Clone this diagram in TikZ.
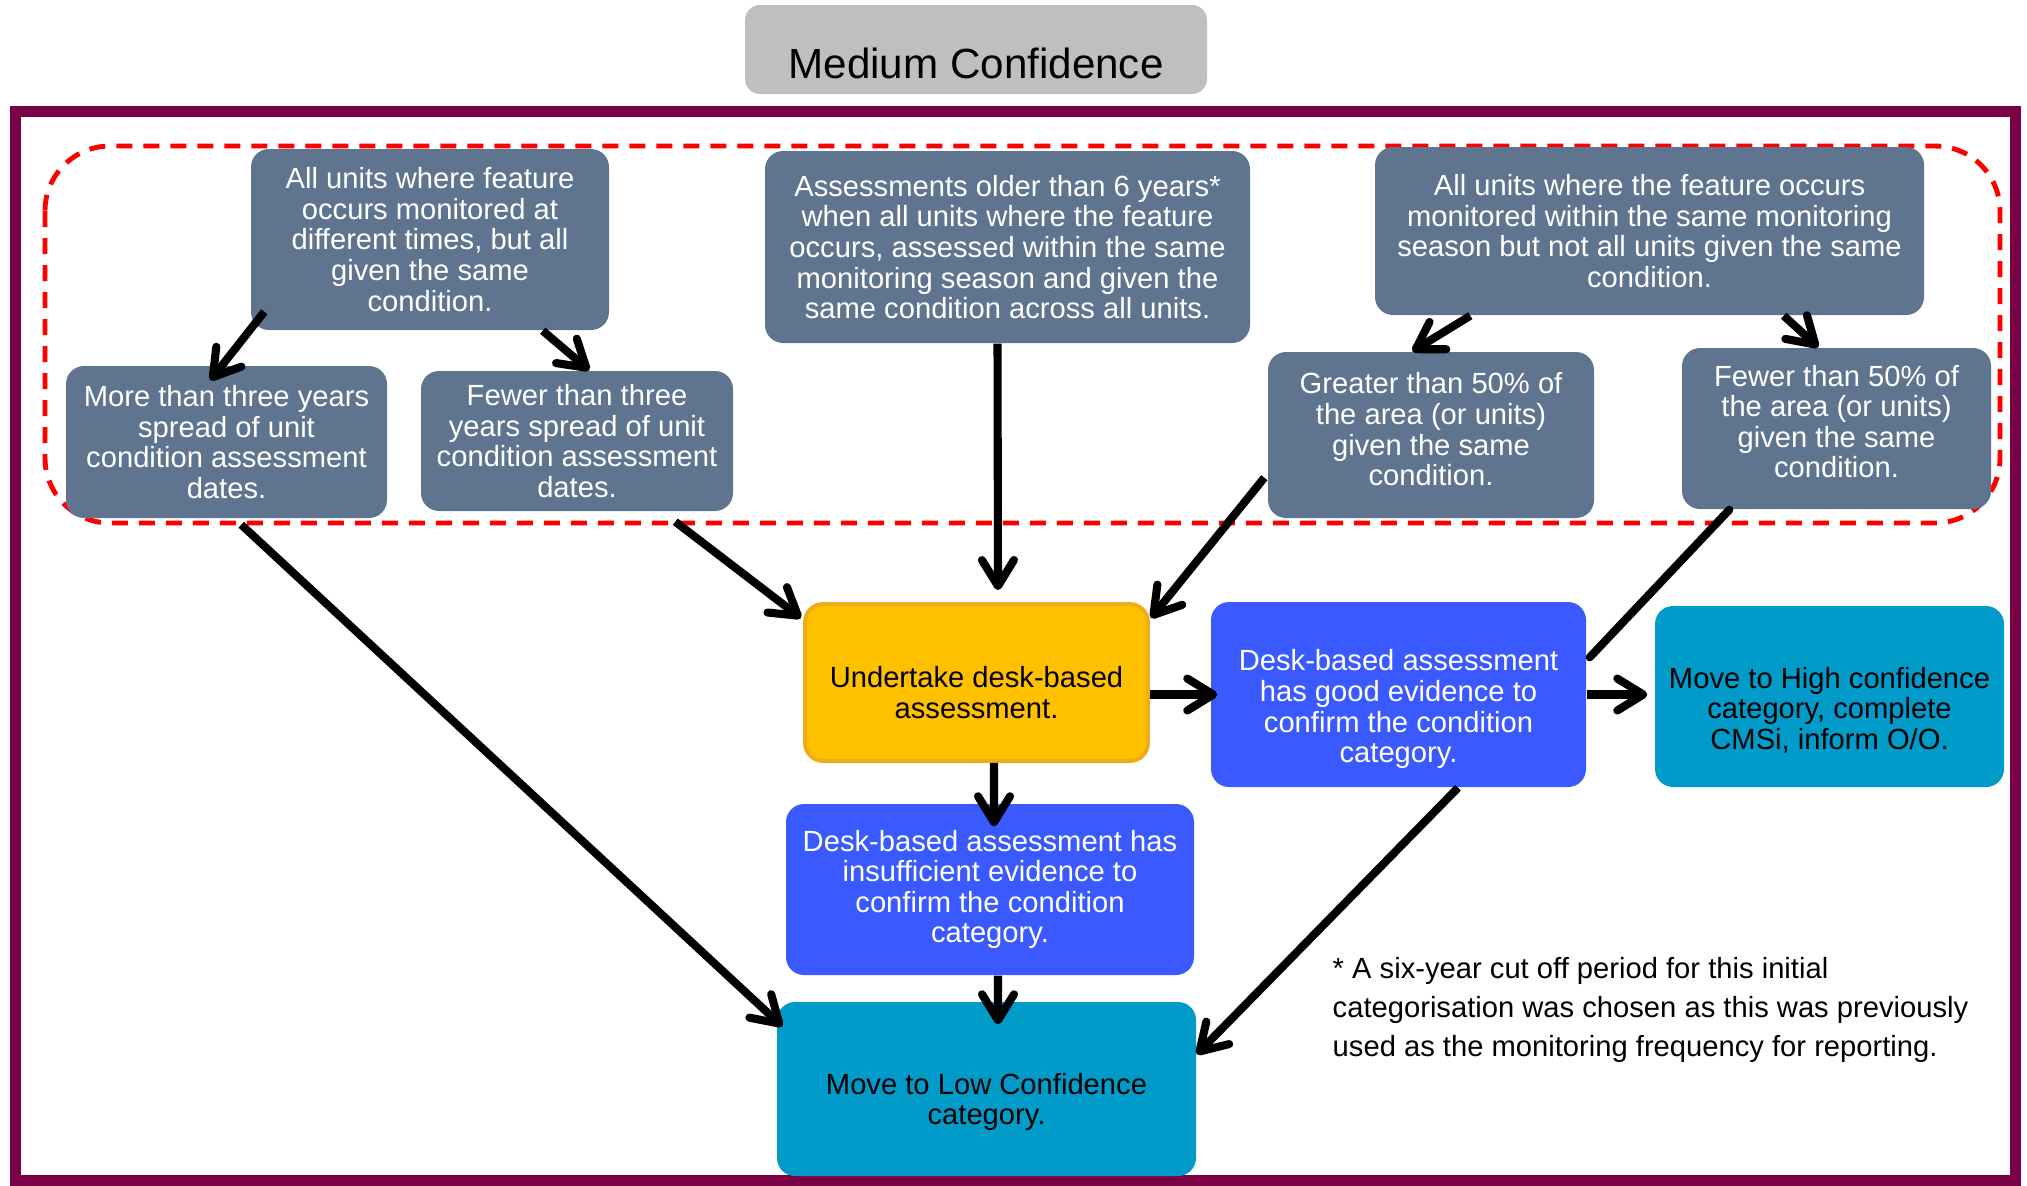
\documentclass[tikz,border=0pt]{standalone}
\usepackage{fontspec}
\setmainfont{Liberation Sans}
\usepackage{xcolor}
\usepackage{tikz}
\usetikzlibrary{arrows.meta}
\definecolor{slatefill}{RGB}{95,117,143}
\definecolor{deskfill}{RGB}{255,192,0}
\definecolor{deskline}{RGB}{240,172,24}
\definecolor{evidfill}{RGB}{58,90,255}
\definecolor{movefill}{RGB}{0,155,200}
\definecolor{hdrfill}{RGB}{191,191,191}
\definecolor{framecol}{RGB}{122,0,69}
\definecolor{dashred}{RGB}{255,0,0}
\newcommand{\padtop}[1]{\rule{0pt}{#1}}
\newcommand{\padbot}[1]{\rule[-#1]{0pt}{0pt}}

\begin{document}
\begin{tikzpicture}[
  box/.style={rounded corners=0.18cm, align=center, inner sep=1pt, font=\fontsize{8.3}{8.7}\selectfont},
  cond/.style={box, fill=slatefill, text=white},
  deskbox/.style={box, fill=deskfill, draw=deskline, line width=1.1pt, text=black},
  evid/.style={box, fill=evidfill, text=white},
  movebox/.style={box, fill=movefill, text=black},
  arr/.style={-{Straight Barb[length=2.6mm,width=3.2mm,round]}, line width=2.3pt},
  ln/.style={line width=2.3pt, line cap=round}
]
\useasboundingbox (0,0) rectangle (20.27,-11.85);

\node[fill=hdrfill, rounded corners=0.15cm, minimum width=4.62cm, minimum height=0.89cm,
  text height=0.57cm, text depth=0cm, inner sep=0pt, font=\fontsize{12}{14}\selectfont]
  (hdr) at (9.76,-0.495) {Medium Confidence};
\draw[framecol, line width=0.11cm] (0.155,-1.11) rectangle (20.15,-11.80);
\draw[dashred, line width=1.4pt, dash pattern=on 0.16cm off 0.11cm, rounded corners=0.65cm]
  (0.45,-1.46) rectangle (20.00,-5.23);

\node[cond, minimum width=3.58cm, minimum height=1.81cm] (allmon) at (4.30,-2.395)
  {All units where feature\\occurs monitored at\\different times, but all\\given the same\\condition.};
\node[cond, minimum width=3.21cm, minimum height=1.52cm] (morethree) at (2.265,-4.42)
  {More than three years\\spread of unit\\condition assessment\\dates.};
\node[cond, minimum width=3.12cm, minimum height=1.40cm] (fewerthree) at (5.77,-4.41)
  {Fewer than three\\years spread of unit\\condition assessment\\dates.};
\node[cond, minimum width=4.85cm, minimum height=1.92cm] (older) at (10.075,-2.47)
  {Assessments older than 6 years*\\when all units where the feature\\occurs, assessed within the same\\monitoring season and given the\\same condition across all units.};
\node[cond, minimum width=5.49cm, minimum height=1.68cm] (season) at (16.495,-2.31)
  {All units where the feature occurs\\monitored within the same monitoring\\season but not all units given the same\\condition.};
\node[cond, minimum width=3.26cm, minimum height=1.66cm] (greater) at (14.31,-4.35)
  {Greater than 50\% of\\the area (or units)\\given the same\\condition.\padbot{3.3pt}};
\node[cond, minimum width=3.09cm, minimum height=1.61cm] (fewerfifty) at (18.365,-4.285)
  {Fewer than 50\% of\\the area (or units)\\given the same\\condition.\padbot{4pt}};

\node[deskbox, minimum width=3.43cm, minimum height=1.57cm] (desk) at (9.765,-6.825)
  {\padtop{11.7pt}Undertake desk-based\\assessment.};
\node[evid, minimum width=3.75cm, minimum height=1.85cm] (good) at (13.985,-6.945)
  {\padtop{14.4pt}Desk-based assessment\\has good evidence to\\confirm the condition\\category.};
\node[movebox, minimum width=3.49cm, minimum height=1.81cm] (high) at (18.295,-6.965)
  {\padtop{13.8pt}Move to High confidence\\category, complete\\CMSi, inform O/O.};
\node[evid, minimum width=4.08cm, minimum height=1.71cm] (insuff) at (9.90,-8.895)
  {Desk-based assessment has\\insufficient evidence to\\confirm the condition\\category.};
\node[movebox, minimum width=4.19cm, minimum height=1.74cm] (low) at (9.865,-10.89)
  {\padtop{13.4pt}Move to Low Confidence\\category.};

\node[anchor=west, align=left, inner sep=0pt, font=\fontsize{8.3}{11}\selectfont] (note) at (13.32,-10.10)
  {* A six-year cut off period for this initial\\categorisation was chosen as this was previously\\used as the monitoring frequency for reporting.};

\draw[arr] ([shift={(0.14,0.19)}]allmon.south west) -- ([shift={(1.45,-0.15)}]morethree.north west);
\draw[arr] ([xshift=-0.67cm]allmon.south east) -- ([xshift=1.69cm]fewerthree.north west);
\draw[arr] ([xshift=0.96cm]season.south west) -- ([xshift=1.45cm]greater.north west);
\draw[arr] ([xshift=-1.41cm]season.south east) -- ([xshift=1.37cm]fewerfifty.north west);
\draw[arr] ([xshift=-0.1cm]older.south) -- ([shift={(0.215,0.12)}]desk.north);
\draw[arr] ([shift={(2.55,-0.10)}]fewerthree.south west) -- ([shift={(-0.02,-0.16)}]desk.north west);
\draw[arr] ([shift={(-0.03,0.41)}]greater.south west) -- ([shift={(0.01,-0.16)}]desk.north east);
\draw[arr] ([shift={(1.76,-0.06)}]morethree.south west) -- ([shift={(0.06,-0.25)}]low.north west);
\draw[ln] ([xshift=0.48cm]fewerfifty.south west) -- ([shift={(0.03,-0.56)}]good.north east);
\draw[arr] (desk.east |- good.west) -- ([xshift=0.7mm]good.west);
\draw[arr, shorten >=0.7mm] (good.east) -- (good.east -| high.west);
\draw[arr] ([xshift=0.175cm]desk.south) -- ([shift={(0.04,-0.23)}]insuff.north);
\draw[arr] ([xshift=0.08cm]insuff.south) -- ([shift={(0.115,-0.23)}]low.north);
\draw[arr] ([xshift=0.595cm]good.south) -- ([yshift=-0.53cm]low.north east);
\end{tikzpicture}
\end{document}
